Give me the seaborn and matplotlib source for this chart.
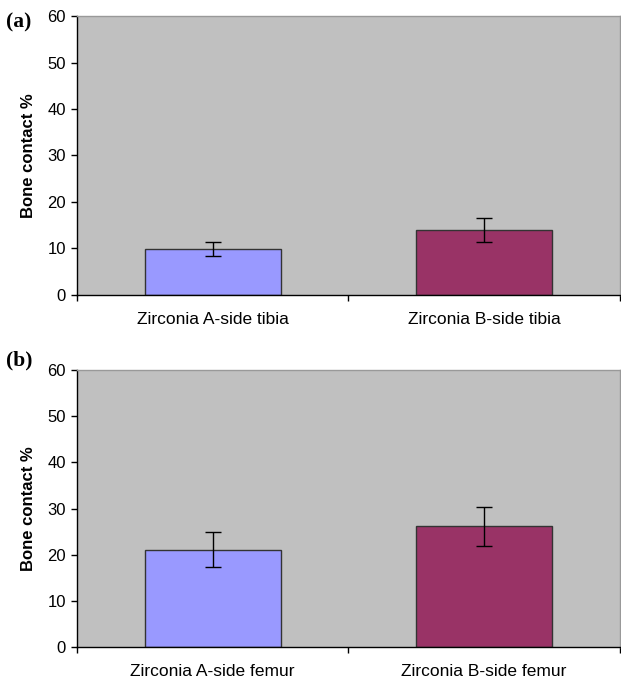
import numpy as np
import pandas as pd
import seaborn as sns
import matplotlib
matplotlib.use('Agg')
import matplotlib.pyplot as plt

# ====================== data ======================
cats_a = ["Zirconia A-side tibia", "Zirconia B-side tibia"]
means_a = [9.9, 14.0]
errs_a = [1.6, 2.6]

cats_b = ["Zirconia A-side femur", "Zirconia B-side femur"]
means_b = [21.1, 26.2]
errs_b = [3.8, 4.2]

panel_labels = ["(a)", "(b)"]
bar_colors = ["#9999FF", "#993366"]
y_ticks = [0, 10, 20, 30, 40, 50, 60]

sns.set_style("white")
plt.rcParams['font.family'] = ['Liberation Sans', 'DejaVu Sans']
plt.rcParams['text.color'] = 'black'
plt.rcParams['axes.labelcolor'] = 'black'
plt.rcParams['xtick.color'] = 'black'
plt.rcParams['ytick.color'] = 'black'

W, H = 621, 682
fig = plt.figure(figsize=(W / 100, H / 100), dpi=100)
ax_a = fig.add_axes([0.124, 0.5675, 0.874, 0.409])
ax_b = fig.add_axes([0.124, 0.0509, 0.874, 0.4066])


def draw_panel(ax, cats, means, errs):
    df = pd.DataFrame({"cat": cats, "val": means})
    sns.barplot(data=df, x="cat", y="val", hue="cat", palette=bar_colors,
                width=0.5, errorbar=None, legend=False, ax=ax, saturation=1,
                edgecolor="#333333", linewidth=1.0)
    ax.errorbar(x=np.arange(len(cats)), y=means, yerr=errs, fmt="none",
                ecolor="black", elinewidth=1.0, capsize=5.5, capthick=1.0)
    ax.set_facecolor("#C0C0C0")
    ax.set_xlim(-0.5, len(cats) - 0.5)
    ax.set_ylim(0, 60)
    ax.set_yticks(y_ticks)
    ax.tick_params(axis="y", left=True, length=4, width=1, labelsize=12,
                   pad=4, direction="out", color="black", labelcolor="black")
    # excel style: ticks between the categories
    ax.tick_params(axis="x", which="major", length=0, labelsize=12.5, pad=12,
                   labelcolor="black")
    ax.set_xticks(np.arange(-0.5, len(cats)), minor=True)
    ax.tick_params(axis="x", which="minor", bottom=True, length=4, width=1,
                   direction="out", color="black")
    ax.set_xlabel("")
    ax.set_ylabel("Bone contact %", fontsize=12, fontweight="bold", labelpad=8,
                  color="black")
    for s in ["left", "bottom"]:
        ax.spines[s].set_color("black")
        ax.spines[s].set_linewidth(1.0)
    for s in ["top", "right"]:
        ax.spines[s].set_color("#999999")
        ax.spines[s].set_linewidth(1.0)


draw_panel(ax_a, cats_a, means_a, errs_a)
draw_panel(ax_b, cats_b, means_b, errs_b)

serif = ["Liberation Serif", "DejaVu Serif"]
fig.text(6 / W, 1 - 22 / H, panel_labels[0], ha="left", va="center",
         fontsize=15.5, fontweight="bold", family=serif, color="black")
fig.text(6 / W, 1 - 360 / H, panel_labels[1], ha="left", va="center",
         fontsize=15.5, fontweight="bold", family=serif, color="black")

fig.savefig("out.png", dpi=100)
